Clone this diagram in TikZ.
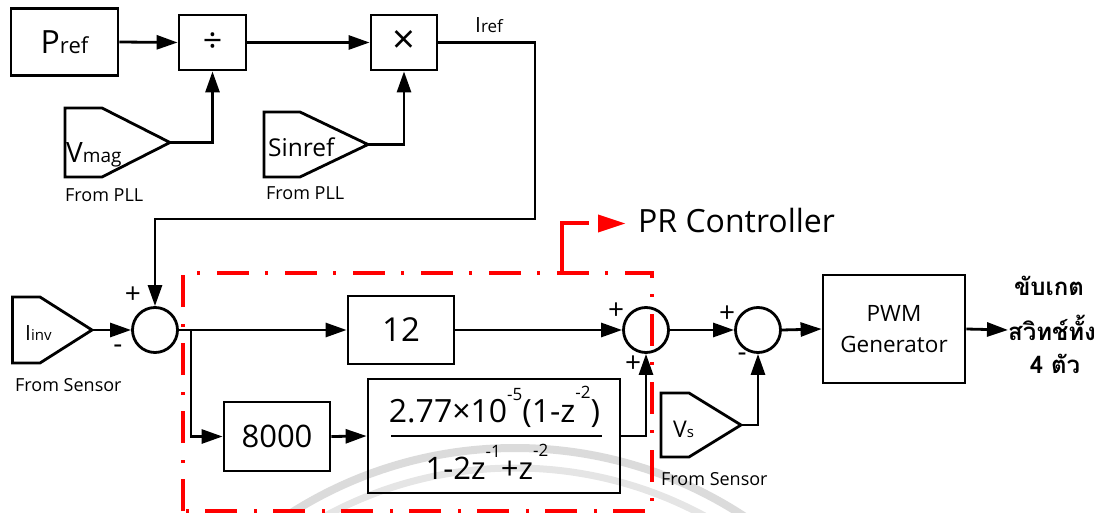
\documentclass[tikz,border=0pt]{standalone}
\usepackage{fontspec}
\setmainfont{Open Sans}
\newfontfamily\thaifont[Script=Thai]{Loma}
\usetikzlibrary{arrows.meta,calc}
\newcommand\fs[1]{\fontsize{#1}{#1}\selectfont}
\newcommand\mysup[2]{\raisebox{#1pt}{\fs{17}#2}}
\begin{document}
\begin{tikzpicture}[x=1pt,y=-1pt,
  blk/.style={draw, line width=2.8pt, inner sep=0pt},
  arr/.style={line width=2.8pt, -{Triangle[length=21pt,width=14pt]}},
  ln/.style={line width=2.8pt},
  sumc/.style={circle, draw, line width=2.8pt, minimum size=45pt, inner sep=0pt},
  pent/.style={draw, line width=2.8pt, line join=miter},
  sign/.style={font=\fs{28}, inner sep=0pt},
  lbl/.style={font=\fs{18}, inner sep=0pt, anchor=base west},
  txt/.style={inner sep=0pt, anchor=base west},
  thai/.style={font=\thaifont\bfseries\fs{24}, inner sep=0pt, anchor=base},
  redbox/.style={draw=red, line width=3.5pt, dash pattern=on 32pt off 16pt on 3pt off 17pt}]
\useasboundingbox (0,0) rectangle (1108,513);
% watermark
\begin{scope}
  \clip (0,0) rectangle (1108,513);
  \draw[black!14, line width=8pt] (515,866) circle[radius=418pt];
  \draw[black!10, line width=7pt] (515,866) circle[radius=398pt];
\end{scope}
% top chain
\node[blk, minimum width=107pt, minimum height=67pt] (pref) at (64.5,42) {\fs{32}P\fs{22}ref};
\node[blk, minimum width=67pt, minimum height=55pt] (div) at (212.5,42.5) {\fs{34}÷};
\node[blk, minimum width=66pt, minimum height=55pt] (mul) at (404,42.5) {\raisebox{-2pt}{\fs{40}×}};
\node[txt] (iref) at (475,33) {\fs{21}I\fs{17}ref};
% Vmag
\draw[pent] (65,108) -- (102,108) -- (170,142.5) -- (102,177) -- (65,177) -- cycle;
\coordinate (vmagtip) at (170,142.5);
\node[txt] (vmag) at (66,163) {\fs{28}V\fs{19}mag};
\node[lbl] (pll1) at (65,202) {From PLL};
% Sinref
\draw[pent] (264,112) -- (300,112) -- (368,144.5) -- (300,177) -- (264,177) -- cycle;
\coordinate (sintip) at (368,144.5);
\node[txt] (sinref) at (268,157) {\fs{24.5}Sinref};
\node[lbl] (pll2) at (266,200) {From PLL};
% Iinv
\draw[pent] (12.5,297) -- (40,297) -- (92,330) -- (40,363) -- (12.5,363) -- cycle;
\coordinate (iinvtip) at (92,330);
\node[txt] (iinv) at (25,340) {\fs{21}I\fs{15}inv};
\node[lbl] (sens1) at (15,391) {From Sensor};
% Vs
\draw[pent] (661,393) -- (689,393) -- (741,425) -- (689,457) -- (661,457) -- cycle;
\coordinate (vstip) at (741,425);
\node[txt] (vs) at (673,437) {\fs{23}V\fs{15}s};
\node[lbl] (sens2) at (661,485) {From Sensor};
% sums
\node[sumc] (s1) at (155,330) {};
\node[sumc] (s2) at (646,330) {};
\node[sumc] (s3) at (758,330) {};
\node[sign] (p1) at (133,295.5) {+};
\node[sign] (m1) at (118,349) {-};
\node[sign] (p2) at (616,311) {+};
\node[sign] (p3) at (633,364) {+};
\node[sign] (p4) at (727,314) {+};
\node[sign] (m2) at (742,357) {-};
% blocks
\node[blk, minimum width=106pt, minimum height=68pt] (g12) at (401,330) {\fs{33}12};
\node[blk, minimum width=106pt, minimum height=69pt] (k8000) at (277,436.5) {\fs{31}8000};
\node[blk, minimum width=252pt, minimum height=114pt] (tf) at (494,436) {};
\node[inner sep=0pt, anchor=base] (num) at (494.5,422) {\fs{32}2.77×10\mysup{22}{-5}(1-z\mysup{24}{-2})};
\node[inner sep=0pt, anchor=base] (den) at (487,479) {\fs{31}1-2z\mysup{22}{-1}+z\mysup{23}{-2}};
\draw[ln] (391,436) -- (602,436);
\node[blk, minimum width=142pt, minimum height=108pt, align=center, font={\fontsize{22.5}{31}\selectfont}] (pwm) at (894,329) {PWM\\Generator};
\coordinate (out) at (1008,330);
\node[thai] (th1) at (1049,295) {ขับเกต};
\node[thai] (th2) at (1052,340) {สวิทช์ทั้ง};
\node[thai] (th3) at (1055,373) {4 ตัว};
% connectors
\coordinate (c1) at (535,219);
\coordinate (br) at (191,330);
\draw[arr] (pref.east) -- (div.west);
\draw[arr] (div.east) -- (mul.west);
\draw[arr] (vmagtip) -| (div.south);
\draw[arr] (sintip) -| (mul.south);
\draw[arr] (mul.east) -| (c1) -| (s1.north);
\draw[arr] (iinvtip) -- (s1.west);
\draw[arr] (s1.east) -- (g12.west);
\draw[arr] (br) |- (k8000.west);
\draw[arr] (k8000.east) -- (tf.west);
\draw[arr] (g12.east) -- (s2.west);
\draw[arr] (tf.east) -| (s2.south);
\draw[arr] (s2.east) -- (s3.west);
\draw[arr] (vstip) -| (s3.south);
\draw[arr] (s3.east) -- (pwm.west);
\draw[arr] (pwm.east) -- (out);
% PR controller frame
\draw[redbox] (183,511) -- (183,273) -- (652,273) -- (652,511) -- cycle;
\draw[red, line width=3.5pt] (562,273) -- (562,223) -- (589,223);
\fill[red] (598,214.5) -- (625,223.5) -- (598,232.5) -- cycle;
\node[txt] (pr) at (638,233) {\fs{32}PR Controller};
\end{tikzpicture}
\end{document}
